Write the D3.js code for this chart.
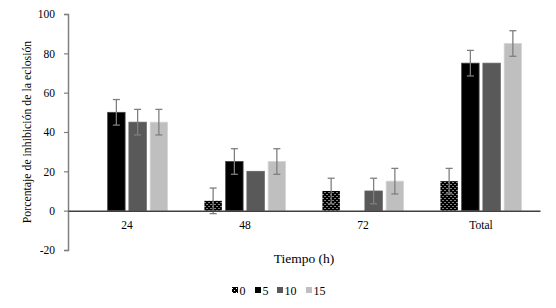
<!DOCTYPE html>
<html>
<head>
<meta charset="utf-8">
<script src="https://cdn.jsdelivr.net/npm/d3@7"></script>
<style>
  body { margin: 0; background: #fff; }
  text { font-family: "Liberation Serif", "Times New Roman", serif; fill: #000; }
</style>
</head>
<body>
<svg id="chart" width="556" height="308"></svg>
<script>
let categories = ["24", "48", "72", "Total"]
let series = ["0", "5", "10", "15"]
let values = [
  [0, 50, 45, 45],
  [5, 25, 20, 25],
  [10, 0, 10, 15],
  [15, 75, 75, 85]
]
let errors = [
  [0, 6.5, 6.5, 6.5],
  [6.5, 6.5, 0, 6.5],
  [6.5, 0, 6.5, 6.5],
  [6.5, 6.5, 0, 6.5]
]
let yTicks = [-20, 0, 20, 40, 60, 80, 100]
let fills = ["url(#dots)", "#000000", "#595959", "#bfbfbf"]

let svg = d3.select("#chart")
let margin = {top: 14, right: 16, bottom: 58, left: 68}

// dotted pattern for the "0" series
let defs = svg.append("defs")
let pat = defs.append("pattern")
  .attr("id", "dots")
  .attr("patternUnits", "userSpaceOnUse")
  .attr("width", 4).attr("height", 4)
pat.append("rect").attr("width", 4).attr("height", 4).attr("fill", "#000")
pat.append("rect").attr("x", 0).attr("y", 0).attr("width", 1).attr("height", 1).attr("fill", "#fff")
pat.append("rect").attr("x", 2).attr("y", 2).attr("width", 1).attr("height", 1).attr("fill", "#fff")

let x = d3.scaleBand()
  .domain(categories)
  .range([margin.left, 556 - margin.right])
  .paddingInner(0.28)
  .paddingOuter(0.14)

let xs = d3.scaleBand()
  .domain(series)
  .range([0, x.bandwidth()])
  .paddingInner(0.18)
  .paddingOuter(0.09)

let y = d3.scaleLinear()
  .domain([-20, 100])
  .range([308 - margin.bottom, margin.top])

// y axis
let yAxis = svg.append("g")
  .attr("transform", `translate(${margin.left},0)`)
  .call(d3.axisLeft(y).tickValues(yTicks).tickSize(4).tickPadding(9)
    .tickFormat(d => String(d)))
yAxis.select(".domain").attr("stroke", "#808080").attr("stroke-width", 1.5)
yAxis.selectAll(".tick line").attr("stroke", "#808080").attr("stroke-width", 1.2)
yAxis.selectAll(".tick text").style("font-size", "11.5px").attr("fill", "#000")
  .style("font-family", "Liberation Serif")

// bars
let groups = svg.append("g").selectAll("g")
  .data(categories).enter()
  .append("g")
  .attr("transform", d => `translate(${x(d)},0)`)

groups.each(function (cat, ci) {
  let g = d3.select(this)
  series.forEach((s, si) => {
    let v = values[ci][si]
    g.append("rect")
      .attr("x", xs(s))
      .attr("width", xs.bandwidth())
      .attr("y", y(Math.max(v, 0)))
      .attr("height", Math.abs(y(v) - y(0)))
      .attr("fill", fills[si])
      .attr("stroke", si === 0 ? "none" : (si === 1 ? "#404040" : d3.color(fills[si]).brighter(0.3)))
      .attr("stroke-width", 0.8)
  })
})

// x axis line at zero
let xAxis = svg.append("g")
  .attr("transform", `translate(0,${y(0)})`)
  .call(d3.axisBottom(x).tickSize(0).tickPadding(10))
xAxis.select(".domain").attr("stroke", "#404040").attr("stroke-width", 1.5)
xAxis.selectAll(".tick text").style("font-size", "11.5px").attr("fill", "#000")
  .style("font-family", "Liberation Serif")

// error bars
groups.each(function (cat, ci) {
  let g = d3.select(this)
  series.forEach((s, si) => {
    let e = errors[ci][si]
    if (!e) return
    let v = values[ci][si]
    let cx = xs(s) + xs.bandwidth() / 2
    let eg = g.append("g").attr("stroke", "#7f7f7f").attr("stroke-width", 1.3)
    eg.append("line").attr("x1", cx).attr("x2", cx).attr("y1", y(v + e)).attr("y2", y(v - e))
    eg.append("line").attr("x1", cx - 3.5).attr("x2", cx + 3.5).attr("y1", y(v + e)).attr("y2", y(v + e))
    eg.append("line").attr("x1", cx - 3.5).attr("x2", cx + 3.5).attr("y1", y(v - e)).attr("y2", y(v - e))
  })
})

// axis titles
svg.append("text")
  .attr("transform", `translate(31,132) rotate(-90)`)
  .attr("text-anchor", "middle")
  .style("font-size", "11.8px")
  .text("Porcentaje de inhibición de la eclosión")

svg.append("text")
  .attr("x", 304).attr("y", 263)
  .attr("text-anchor", "middle")
  .style("font-size", "13.5px")
  .text("Tiempo (h)")

// legend
let legendX = [232, 255, 277, 306]
let legend = svg.append("g")
series.forEach((s, i) => {
  legend.append("rect")
    .attr("x", legendX[i]).attr("y", 287)
    .attr("width", 6).attr("height", 6)
    .attr("fill", fills[i])
  legend.append("text")
    .attr("x", legendX[i] + 7.5).attr("y", 295)
    .style("font-size", "12px")
    .text(s)
})
</script>
</body>
</html>
